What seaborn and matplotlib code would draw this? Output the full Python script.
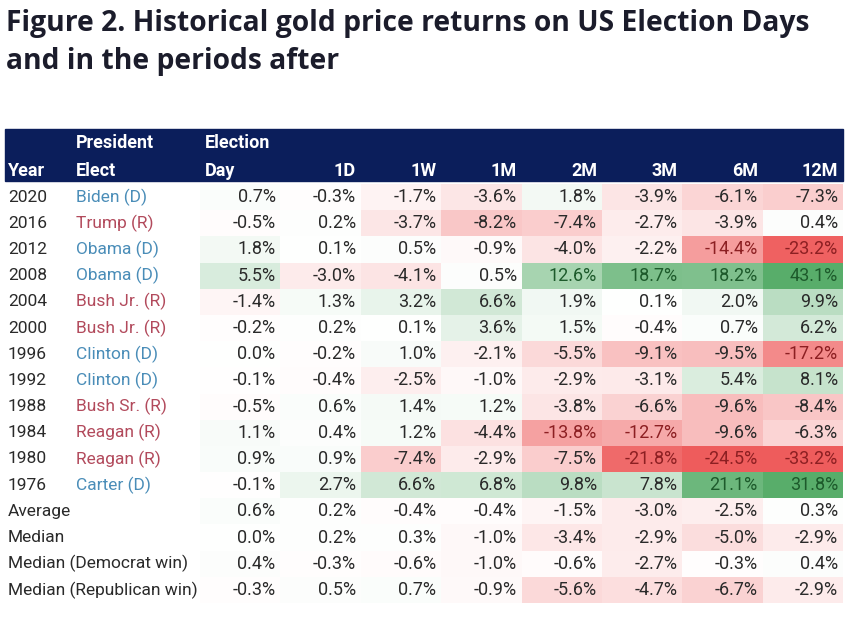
import numpy as np
import pandas as pd
import seaborn as sns
import matplotlib.pyplot as plt
from matplotlib.colors import LinearSegmentedColormap
from matplotlib.patches import Rectangle
from matplotlib.transforms import blended_transform_factory

# DATA

years = ["2020", "2016", "2012", "2008", "2004", "2000",
         "1996", "1992", "1988", "1984", "1980", "1976"]
presidents = ["Biden (D)", "Trump (R)", "Obama (D)", "Obama (D)", "Bush Jr. (R)", "Bush Jr. (R)",
              "Clinton (D)", "Clinton (D)", "Bush Sr. (R)", "Reagan (R)", "Reagan (R)", "Carter (D)"]
summary_labels = ["Average", "Median", "Median (Democrat win)", "Median (Republican win)"]
periods = ["Election Day", "1D", "1W", "1M", "2M", "3M", "6M", "12M"]

ret_2020 = [0.7, -0.3, -1.7, -3.6, 1.8, -3.9, -6.1, -7.3]
ret_2016 = [-0.5, 0.2, -3.7, -8.2, -7.4, -2.7, -3.9, 0.4]
ret_2012 = [1.8, 0.1, 0.5, -0.9, -4.0, -2.2, -14.4, -23.2]
ret_2008 = [5.5, -3.0, -4.1, 0.5, 12.6, 18.7, 18.2, 43.1]
ret_2004 = [-1.4, 1.3, 3.2, 6.6, 1.9, 0.1, 2.0, 9.9]
ret_2000 = [-0.2, 0.2, 0.1, 3.6, 1.5, -0.4, 0.7, 6.2]
ret_1996 = [0.0, -0.2, 1.0, -2.1, -5.5, -9.1, -9.5, -17.2]
ret_1992 = [-0.1, -0.4, -2.5, -1.0, -2.9, -3.1, 5.4, 8.1]
ret_1988 = [-0.5, 0.6, 1.4, 1.2, -3.8, -6.6, -9.6, -8.4]
ret_1984 = [1.1, 0.4, 1.2, -4.4, -13.8, -12.7, -9.6, -6.3]
ret_1980 = [0.9, 0.9, -7.4, -2.9, -7.5, -21.8, -24.5, -33.2]
ret_1976 = [-0.1, 2.7, 6.6, 6.8, 9.8, 7.8, 21.1, 31.8]
ret_average = [0.6, 0.2, -0.4, -0.4, -1.5, -3.0, -2.5, 0.3]
ret_median = [0.0, 0.2, 0.3, -1.0, -3.4, -2.9, -5.0, -2.9]
ret_median_dem = [0.4, -0.3, -0.6, -1.0, -0.6, -2.7, -0.3, 0.4]
ret_median_rep = [-0.3, 0.5, 0.7, -0.9, -5.6, -4.7, -6.7, -2.9]

rows = [ret_2020, ret_2016, ret_2012, ret_2008, ret_2004, ret_2000, ret_1996, ret_1992,
        ret_1988, ret_1984, ret_1980, ret_1976, ret_average, ret_median, ret_median_dem, ret_median_rep]
row_names = years + summary_labels

df = pd.DataFrame(rows, index=row_names, columns=periods)
labels = df.map(lambda v: f"{v:.1f}%")

# STYLE

sns.set_theme(style="white")
plt.rcParams["font.family"] = ["Roboto", "DejaVu Sans"]

NAVY = "#0b1e5b"
TXT = "#2a2a2a"
DEM = "#4a8db8"
REP = "#b24a5c"
cmap = LinearSegmentedColormap.from_list("rwg", ["#ee5c5c", "#ffffff", "#58ad6a"])
FS = 13
FS_LBL = 12.5

W, H = 848, 617
def fx(px):
    return px / W
def fy(py):
    return 1 - py / H

fig = plt.figure(figsize=(W / 100, H / 100), dpi=100)

# Titre
title_kw = dict(fontsize=20.3, fontweight="bold", color="#1b1c2b", va="center", ha="left",
                family=["Open Sans", "DejaVu Sans"])
fig.text(fx(6), fy(23), "Figure 2. Historical gold price returns on US Election Days", **title_kw)
fig.text(fx(6), fy(62), "and in the periods after", **title_kw)

# HEATMAP

ax = fig.add_axes([fx(200), fy(603), fx(843) - fx(200), fy(184) - fy(603)])
sns.heatmap(df, cmap=cmap, vmin=-24, vmax=24, annot=labels, fmt="", cbar=False,
            annot_kws={"fontsize": FS}, ax=ax)
ax.set_xticks([])
ax.set_yticks([])
ax.set_xlabel("")
ax.set_ylabel("")

vals = df.values
for t in ax.texts:
    x, y = t.get_position()
    j, i = int(x), int(y)
    v = vals[i, j]
    t.set_position((j + 0.94, y))
    t.set_horizontalalignment("right")
    if v <= -12:
        t.set_color("#8c1f22")
    elif v >= 12:
        t.set_color("#1d5a2b")
    else:
        t.set_color(TXT)

# Colonnes Year / President
trans_rows = blended_transform_factory(fig.transFigure, ax.transData)
for i, name in enumerate(row_names):
    ax.text(fx(8), i + 0.5, name, transform=trans_rows, ha="left", va="center",
            fontsize=FS_LBL, color=TXT, clip_on=False)
for i, pres in enumerate(presidents):
    ax.text(fx(76), i + 0.5, pres, transform=trans_rows, ha="left", va="center",
            fontsize=FS_LBL, color=DEM if "(D)" in pres else REP, clip_on=False)

# En-tête
fig.add_artist(Rectangle((fx(5), fy(181)), fx(843) - fx(5), (181 - 129) / H,
                         transform=fig.transFigure, color=NAVY, zorder=0))
hdr = dict(fontsize=FS, fontweight="bold", color="white", va="center")
fig.text(fx(8), fy(171), "Year", ha="left", **hdr)
fig.text(fx(76), fy(143), "President", ha="left", **hdr)
fig.text(fx(76), fy(171), "Elect", ha="left", **hdr)

trans_hdr = blended_transform_factory(ax.transData, fig.transFigure)
ax.text(0.06, fy(143), "Election", transform=trans_hdr, ha="left", clip_on=False, **hdr)
ax.text(0.06, fy(171), "Day", transform=trans_hdr, ha="left", clip_on=False, **hdr)
for j, col in enumerate(periods[1:], start=1):
    ax.text(j + 0.94, fy(171), col, transform=trans_hdr, ha="right", clip_on=False, **hdr)

fig.savefig("out.png", dpi=100)
